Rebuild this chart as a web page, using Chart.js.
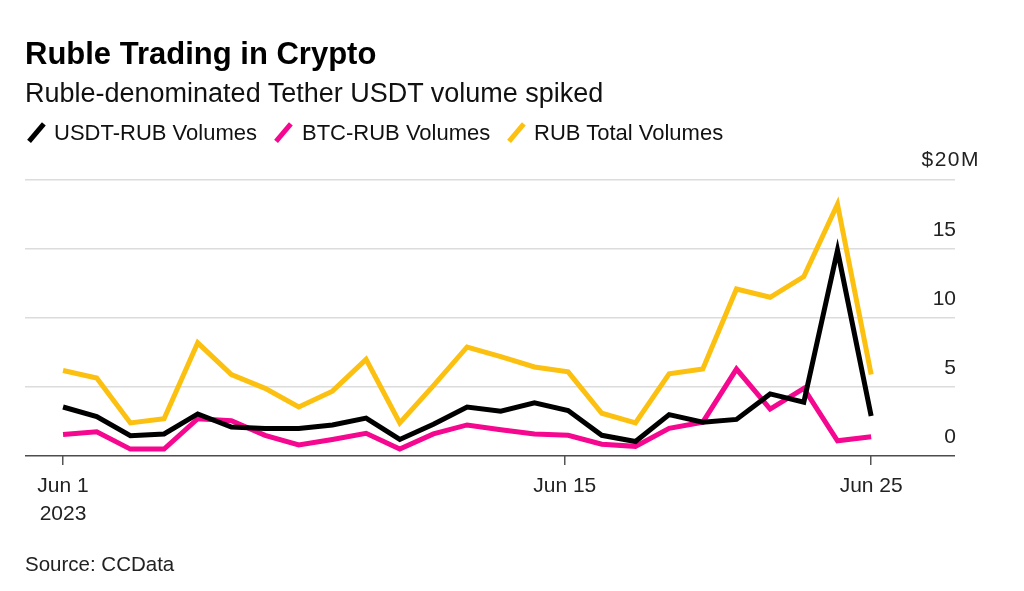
<!DOCTYPE html>
<html>
<head>
<meta charset="utf-8">
<script src="https://cdn.jsdelivr.net/npm/chart.js@4"></script>
<style>
  html, body { margin: 0; background: #fff; }
  body { width: 1024px; height: 591px; position: relative; overflow: hidden; font-family: "Liberation Sans", sans-serif; color: #000; }
  canvas { position: absolute; left: 0; top: 0; }
  .txt { position: absolute; white-space: nowrap; line-height: 1; }
  #title { left: 25px; top: 38px; font-size: 31px; font-weight: bold; }
  #subtitle { left: 25px; top: 80px; font-size: 27px; color: #111; }
  .leg { top: 122px; font-size: 22px; color: #111; }
  .mark { position: absolute; top: 120.5px; width: 4.5px; height: 23px; transform: rotate(40deg); }
  #source { left: 25px; top: 554px; font-size: 20.5px; color: #222; }
</style>
</head>
<body>
<canvas id="chart" width="1024" height="591"></canvas>
<div class="txt" id="title">Ruble Trading in Crypto</div>
<div class="txt" id="subtitle">Ruble-denominated Tether USDT volume spiked</div>
<div class="mark" style="left:34px;background:#000"></div>
<div class="txt leg" style="left:54px">USDT-RUB Volumes</div>
<div class="mark" style="left:281px;background:#f5078f"></div>
<div class="txt leg" style="left:302px">BTC-RUB Volumes</div>
<div class="mark" style="left:514px;background:#fcc010"></div>
<div class="txt leg" style="left:534px">RUB Total Volumes</div>
<div class="txt" id="source">Source: CCData</div>
<script>
// position along the axis; the picture puts "Jun 15" close to the 16th point
const positions = [1, 2, 3, 4, 5, 6, 7, 8, 9, 10, 11, 12, 13, 14, 15, 16, 17, 18, 19, 20, 21, 22, 23, 24, 25];
const usdtRub = [3.55, 2.85, 1.47, 1.6, 3.05, 2.1, 2.0, 2.0, 2.25, 2.75, 1.2, 2.3, 3.55, 3.25, 3.85, 3.3, 1.5, 1.05, 3.0, 2.45, 2.65, 4.5, 3.9, 14.9, 2.9];
const btcRub = [1.55, 1.75, 0.5, 0.5, 2.7, 2.55, 1.5, 0.8, 1.2, 1.65, 0.5, 1.6, 2.25, 1.9, 1.6, 1.5, 0.85, 0.7, 2.0, 2.45, 6.3, 3.4, 4.9, 1.1, 1.4];
const rubTotal = [6.2, 5.65, 2.4, 2.7, 8.2, 5.9, 4.9, 3.55, 4.7, 7.0, 2.4, 5.1, 7.9, 7.2, 6.45, 6.1, 3.1, 2.4, 5.95, 6.3, 12.1, 11.5, 13.0, 18.25, 5.9];
const xTicks = [1, 15.9, 25];
const xTickLabels = { 1: ['Jun 1', '2023'], 15.9: ['Jun 15'], 25: ['Jun 25'] };
const yTicks = [0, 5, 10, 15, 20];

const tickFont = { family: '"Liberation Sans", sans-serif', size: 21 };

function series(label, values, color) {
  return {
    label,
    data: positions.map((p, i) => ({ x: p, y: values[i] })),
    borderColor: color,
    borderWidth: 5,
    borderJoinStyle: 'miter',
    pointRadius: 0,
    tension: 0,
  };
}

// top label hangs its "M" past the right edge of the other tick labels
const topTickLabel = {
  id: 'topTickLabel',
  afterDraw(chart) {
    const { ctx, scales: { y } } = chart;
    ctx.save();
    ctx.font = '21px "Liberation Sans", sans-serif';
    ctx.letterSpacing = '1.5px';
    ctx.fillStyle = '#222';
    ctx.textAlign = 'right';
    ctx.textBaseline = 'middle';
    ctx.fillText('$20M', y.right + 25, y.getPixelForValue(20) - 20);
    ctx.restore();
  }
};

new Chart(document.getElementById('chart'), {
  type: 'line',
  data: {
    datasets: [
      series('USDT-RUB Volumes', usdtRub, '#000000'),
      series('BTC-RUB Volumes', btcRub, '#f5078f'),
      series('RUB Total Volumes', rubTotal, '#fcc010'),
    ]
  },
  options: {
    responsive: false,
    animation: false,
    layout: { padding: { left: 25, right: 69, top: 180, bottom: 0 } },
    plugins: { legend: { display: false }, tooltip: { enabled: false } },
    scales: {
      x: {
        type: 'linear',
        min: -0.13,
        max: 27.49,
        afterBuildTicks: scale => { scale.ticks = xTicks.map(value => ({ value })); },
        afterFit: scale => { scale.height = 135; },
        grid: { drawOnChartArea: false, drawTicks: true, tickLength: 9, color: '#555', lineWidth: 1.5 },
        border: { display: false },
        ticks: {
          autoSkip: false,
          maxRotation: 0,
          padding: 7,
          color: '#222',
          font: { ...tickFont, lineHeight: 1.35 },
          callback: value => xTickLabels[value] || '',
        }
      },
      y: {
        position: 'right',
        min: 0,
        max: 20,
        afterBuildTicks: scale => { scale.ticks = yTicks.map(value => ({ value })); },
        afterFit: scale => { scale.width = 0; },
        grid: {
          drawTicks: false,
          color: ctx => ctx.tick.value === 0 ? '#4d4d4d' : '#dcdcdc',
          lineWidth: 1.5,
        },
        border: { display: false },
        ticks: {
          mirror: true,
          padding: 1,
          labelOffset: -19,
          color: '#222',
          font: tickFont,
          callback: value => value === 20 ? '' : String(value),
        }
      }
    }
  },
  plugins: [topTickLabel]
});
</script>
</body>
</html>
